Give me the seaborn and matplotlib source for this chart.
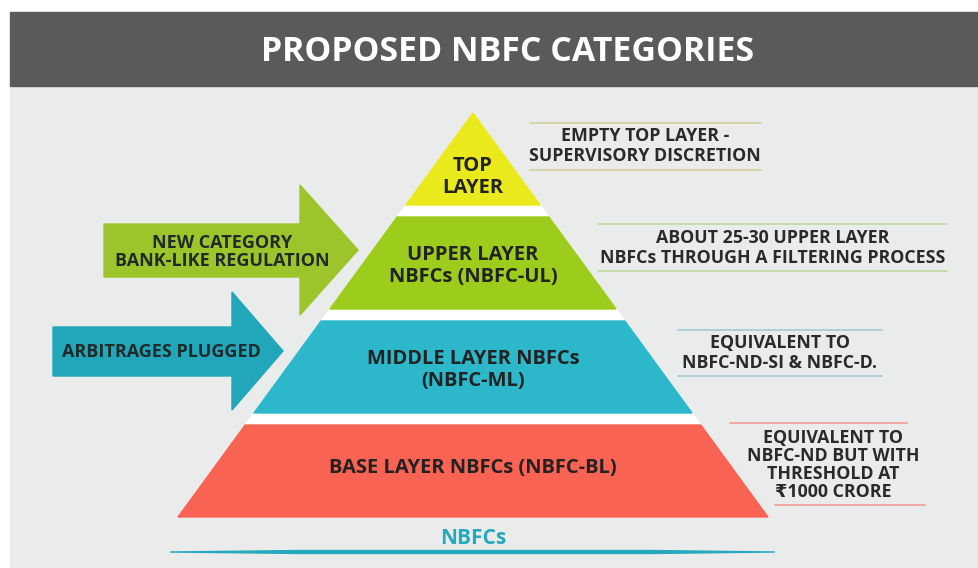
import matplotlib
matplotlib.use("Agg")
import matplotlib.pyplot as plt
import seaborn as sns
from matplotlib.patches import Polygon, Rectangle

# ---- data ----
title = "PROPOSED NBFC CATEGORIES"
layer_labels = ["TOP\nLAYER", "UPPER LAYER\nNBFCs (NBFC-UL)",
                "MIDDLE LAYER NBFCs\n(NBFC-ML)", "BASE LAYER NBFCs (NBFC-BL)"]
layer_colors = ["#e9e91b", "#9dcd1c", "#2cb7cb", "#f96353"]
line_colors = ["#d6d3a0", "#c2dca3", "#a8ccd8", "#f2a29c"]
descriptions = ["EMPTY TOP LAYER -\nSUPERVISORY DISCRETION",
                "ABOUT 25-30 UPPER LAYER\nNBFCs THROUGH A FILTERING PROCESS",
                "EQUIVALENT TO\nNBFC-ND-SI & NBFC-D.",
                "EQUIVALENT TO\nNBFC-ND BUT WITH\nTHRESHOLD AT\n\u20b91000 CRORE"]
arrow_labels = ["NEW CATEGORY\nBANK-LIKE REGULATION", "ARBITRAGES PLUGGED"]
arrow_colors = ["#9cc52b", "#22a6b9"]
base_label = "NBFCs"

sns.set_theme(style="white")
plt.rcParams['font.family'] = ['Open Sans', 'DejaVu Sans']

W, H = 979, 568
fig = plt.figure(figsize=(W / 100, H / 100), dpi=100)
ax = fig.add_axes([0, 0, 1, 1])
ax.set_xlim(0, W)
ax.set_ylim(H, 0)
ax.axis("off")
fig.patch.set_facecolor("white")

# background and header
ax.add_patch(Rectangle((10, 86), W - 10, H - 86, color="#eaecec", zorder=0))
ax.add_patch(Rectangle((10, 12), W - 10, 74, color="#5a5a5a", zorder=1))
ax.text(508, 52, title, color="white", fontsize=24.4, fontweight="bold",
        ha="center", va="center", zorder=2)

# pyramid geometry
cx, apex, base = 473, 113, 517
half_base = 295
layer_h, gap = 92, 12


def hw(y):
    return half_base * (y - apex) / (base - apex)


ax.add_patch(Polygon([(cx, apex), (cx - half_base, base), (cx + half_base, base)],
                     color="white", zorder=2))
tops = [apex + i * (layer_h + gap) for i in range(len(layer_labels))]
for i, (lab, col) in enumerate(zip(layer_labels, layer_colors)):
    y0 = tops[i]
    y1 = y0 + layer_h if i < len(layer_labels) - 1 else base
    pts = [(cx - hw(y0), y0), (cx + hw(y0), y0), (cx + hw(y1), y1), (cx - hw(y1), y1)]
    ax.add_patch(Polygon(pts, color=col, zorder=3))
    ty = (y0 + y1) / 2 + (18 if i == 0 else 3)
    if i == 3:
        ty = 468
    ax.text(cx, ty, lab, ha="center", va="center", fontsize=14.5,
            fontweight="bold", color="#222222", linespacing=1.08, zorder=4)

# descriptions with rules
desc_boxes = [  # (x_center, text_y, line_top, line_bot, x0_top, x1_top, x0_bot, x1_bot)
    (645, 146, 123, 170, 530, 761, 530, 761),
    (773, 248, 224, 271, 598, 947, 598, 947),
    (780, 353, 330, 376, 678, 882, 678, 882),
    (833, 465, 423, 505, 730, 907, 775, 925),
]
desc_spacing = [1.1, 1.1, 1.1, 1.0]
for (xc, ty, lt, lb, a0, a1, b0, b1), txt, lc, ls in zip(desc_boxes, descriptions, line_colors, desc_spacing):
    ax.plot([a0, a1], [lt, lt], color=lc, lw=1.3, zorder=3)
    ax.plot([b0, b1], [lb, lb], color=lc, lw=1.3, zorder=3)
    ax.text(xc, ty, txt, ha="center", va="center", fontsize=12.8,
            fontweight="bold", color="#2a2a2a", linespacing=ls, zorder=4)

# arrows
arrows = [  # body_x0, body_top, body_bot, head_x, head_top, head_bot, tip_x, tip_y
    (104, 224, 277, 300, 185, 315, 358, 250),
    (53, 327, 376, 232, 292, 410, 283, 351),
]
text_pos = [(222, 252), (161, 352)]
for (bx, bt, bb, hx, ht, hb, tx, tyy), lab, col, (px, py) in zip(arrows, arrow_labels, arrow_colors, text_pos):
    pts = [(bx, bt), (hx, bt), (hx, ht), (tx, tyy), (hx, hb), (hx, bb), (bx, bb)]
    ax.add_patch(Polygon(pts, color=col, zorder=3))
    ax.text(px, py, lab, ha="center", va="center", fontsize=13,
            fontweight="bold", color="#1f2a2a", linespacing=1.0, zorder=4)

# base line and label
ax.text(cx, 538, base_label, ha="center", va="center", fontsize=15,
        fontweight="bold", color="#26a9bd", zorder=4)
ax.add_patch(Polygon([(170, 552), (300, 550.5), (650, 550.5), (775, 552),
                      (650, 553.5), (300, 553.5)], color="#26a9bd", zorder=3))

fig.savefig("out.png", dpi=100, facecolor="white")
